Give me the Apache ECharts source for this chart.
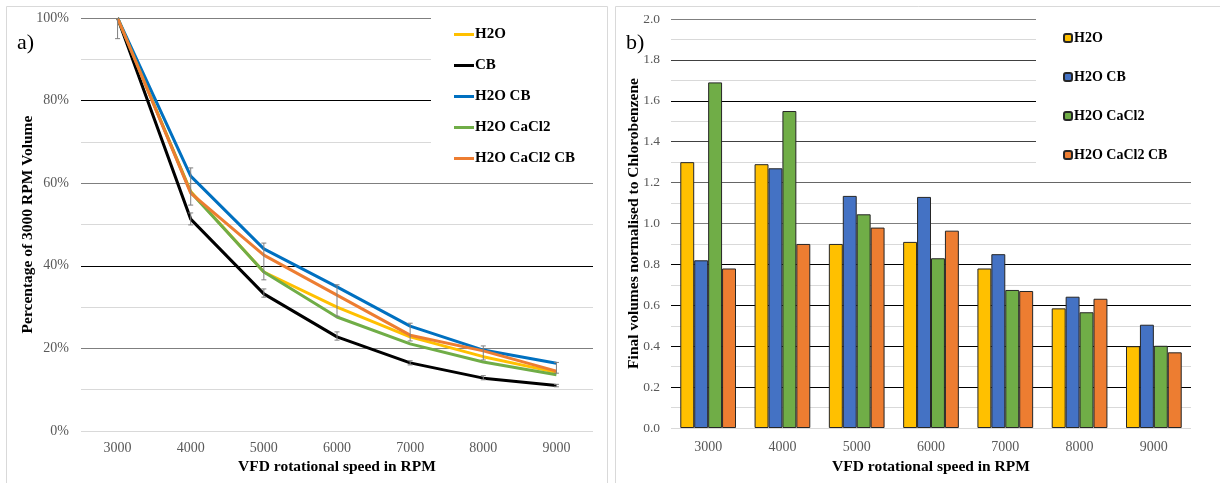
<!DOCTYPE html>
<html>
<head>
<meta charset="utf-8">
<title>VFD rotational speed</title>
<script src="https://cdn.jsdelivr.net/npm/echarts@6/dist/echarts.min.js"></script>
<style>
    html, body {margin: 0; padding: 0; background: #fff;}
    #volume_chart {position: absolute; left: 0; top: 0; width: 610px; height: 483px;}
    #normalised_chart {position: absolute; left: 610px; top: 0; width: 610px; height: 483px;}
</style>
</head>
<body>
<div id="volume_chart"></div>
<div id="normalised_chart"></div>
<script>
// 转速 (RPM)
var speeds = ['3000', '4000', '5000', '6000', '7000', '8000', '9000'];

// a) 相对 3000 RPM 体积百分比
var pctH2O = [100, 58, 38.5, 30.0, 22.8, 18.0, 14.2];
var pctCB = [100, 51.3, 33.2, 22.8, 16.5, 12.8, 11.0];
var pctH2OCB = [100, 61.7, 44.1, 34.9, 25.4, 19.6, 16.4];
var pctH2OCaCl2 = [100, 57.8, 38.5, 27.6, 21.1, 16.7, 13.6];
var pctH2OCaCl2CB = [100, 57.6, 42.6, 32.9, 23.2, 19.4, 14.5];

// 误差线 (上下限)
var errLow = [95, 54.7, 36.6, 27.8, 21.8, 17.2, 14.0];
var errHigh = [105, 63.7, 45.5, 35.4, 26.1, 20.6, 16.6];
var errCBLow = [100, 49.9, 32.4, 22.0, 16.0, 12.4, 10.7];
var errCBHigh = [100, 52.8, 34.4, 24.0, 17.0, 13.4, 11.3];

// b) 归一化最终体积
var normH2O = [1.30, 1.29, 0.90, 0.91, 0.78, 0.585, 0.40];
var normH2OCB = [0.82, 1.27, 1.135, 1.13, 0.85, 0.642, 0.505];
var normH2OCaCl2 = [1.69, 1.55, 1.045, 0.83, 0.675, 0.566, 0.402];
var normH2OCaCl2CB = [0.78, 0.90, 0.98, 0.965, 0.67, 0.632, 0.37];

var serif = 'Liberation Serif';
var light = '#d9d9d9';

/**
 * 误差线绘制
 */
function renderErrorBar(params, api) {
    var x = api.value(0);
    var low = api.coord([x, api.value(1)]);
    var high = api.coord([x, api.value(2)]);
    var style = {stroke: '#7f7f7f', lineWidth: 1};
    return {
        type: 'group',
        children: [
            {type: 'line', shape: {x1: low[0], y1: low[1], x2: high[0], y2: high[1]}, style: style},
            {type: 'line', shape: {x1: low[0] - 2.5, y1: low[1], x2: low[0] + 2.5, y2: low[1]}, style: style},
            {type: 'line', shape: {x1: high[0] - 2.5, y1: high[1], x2: high[0] + 2.5, y2: high[1]}, style: style}
        ]
    };
}

function errorData(low, high) {
    return speeds.map(function (s, i) {
        return [i, low[i], high[i]];
    });
}

function lineSeries(name, data, color) {
    return {
        name: name,
        type: 'line',
        data: data,
        symbol: 'none',
        z: 3,
        lineStyle: {color: color, width: 3},
        itemStyle: {color: color}
    };
}

/**
 * a) 折线图
 */
function createVolumeChart() {
    var myChart = echarts.init(document.getElementById('volume_chart'));
    var option = {
        animation: false,
        graphic: [
            {type: 'rect', shape: {x: 6.5, y: 6.5, width: 601, height: 500}, style: {fill: 'none', stroke: light, lineWidth: 1}},
            {type: 'rect', z: 1, shape: {x: 431, y: 10, width: 163, height: 170}, style: {fill: '#fff'}},
            {type: 'text', left: 17, top: 32, z: 5, style: {text: 'a)', font: '22px ' + serif, fill: '#000'}}
        ],
        legend: {
            orient: 'vertical',
            left: 449,
            top: 22,
            itemGap: 16,
            itemWidth: 20,
            itemHeight: 3,
            icon: 'rect',
            data: ['H2O', 'CB', 'H2O CB', 'H2O CaCl2', 'H2O CaCl2 CB'],
            textStyle: {fontFamily: serif, fontSize: 15, fontWeight: 'bold', color: '#000', padding: [0, 0, 0, -4]}
        },
        grid: {left: 81, top: 18, width: 512, height: 413},
        xAxis: {
            type: 'category',
            data: speeds,
            name: 'VFD rotational speed in RPM',
            nameLocation: 'middle',
            nameGap: 28,
            nameMoveOverlap: false,
            nameTextStyle: {fontFamily: serif, fontSize: 15.5, fontWeight: 'bold', color: '#000'},
            axisLine: {show: false},
            axisTick: {show: false},
            axisLabel: {fontFamily: serif, fontSize: 14, color: '#595959', margin: 10}
        },
        yAxis: {
            type: 'value',
            min: 0,
            max: 100,
            interval: 10,
            name: 'Percentage of 3000 RPM Volume',
            nameLocation: 'middle',
            nameGap: 45,
            nameMoveOverlap: false,
            nameTextStyle: {fontFamily: serif, fontSize: 15.5, fontWeight: 'bold', color: '#000'},
            axisLabel: {
                fontFamily: serif, fontSize: 14, color: '#595959', margin: 12,
                formatter: function (v) {
                    return v % 20 === 0 ? v + '%' : '';
                }
            },
            splitLine: {
                lineStyle: {
                    width: 1,
                    color: [light, light, '#7f7f7f', light, '#000', light, '#7f7f7f', light, '#000', light, '#7f7f7f']
                }
            }
        },
        series: [
            lineSeries('H2O', pctH2O, '#FFC000'),
            lineSeries('CB', pctCB, '#000000'),
            lineSeries('H2O CB', pctH2OCB, '#0070C0'),
            lineSeries('H2O CaCl2', pctH2OCaCl2, '#70AD47'),
            lineSeries('H2O CaCl2 CB', pctH2OCaCl2CB, '#ED7D31'),
            {type: 'custom', renderItem: renderErrorBar, data: errorData(errLow, errHigh), z: 4, clip: true, silent: true},
            {type: 'custom', renderItem: renderErrorBar, data: errorData(errCBLow, errCBHigh), z: 4, clip: true, silent: true}
        ]
    };
    myChart.setOption(option, true);
}

function barSeries(name, data, color) {
    return {
        name: name,
        type: 'bar',
        data: data,
        barGap: '0%',
        barCategoryGap: '25%',
        itemStyle: {color: color, borderColor: '#262626', borderWidth: 1}
    };
}

/**
 * b) 柱状图
 */
function createNormalisedChart() {
    var myChart = echarts.init(document.getElementById('normalised_chart'));
    var option = {
        animation: false,
        graphic: [
            {type: 'rect', shape: {x: 5.5, y: 6.5, width: 620, height: 500}, style: {fill: 'none', stroke: light, lineWidth: 1}},
            {type: 'rect', z: 1, shape: {x: 426, y: 10, width: 156, height: 170}, style: {fill: '#fff'}},
            {type: 'text', left: 16, top: 32, z: 5, style: {text: 'b)', font: '22px ' + serif, fill: '#000'}}
        ],
        legend: {
            orient: 'vertical',
            left: 448,
            top: 26,
            itemGap: 25,
            itemWidth: 8,
            itemHeight: 8,
            data: ['H2O', 'H2O CB', 'H2O CaCl2', 'H2O CaCl2 CB'],
            textStyle: {fontFamily: serif, fontSize: 14, fontWeight: 'bold', color: '#000', padding: [0, 0, 0, -3]}
        },
        grid: {left: 61, top: 19, width: 520, height: 409},
        xAxis: {
            type: 'category',
            data: speeds,
            name: 'VFD rotational speed in RPM',
            nameLocation: 'middle',
            nameGap: 31,
            nameMoveOverlap: false,
            nameTextStyle: {fontFamily: serif, fontSize: 15.5, fontWeight: 'bold', color: '#000'},
            axisLine: {show: false},
            axisTick: {show: false},
            axisLabel: {fontFamily: serif, fontSize: 14, color: '#595959', margin: 12}
        },
        yAxis: {
            type: 'value',
            min: 0,
            max: 2,
            interval: 0.1,
            name: 'Final volumes normalised to Chlorobenzene',
            nameLocation: 'middle',
            nameGap: 29,
            nameMoveOverlap: false,
            nameTextStyle: {fontFamily: serif, fontSize: 15.5, fontWeight: 'bold', color: '#000'},
            axisLabel: {
                fontFamily: serif, fontSize: 13.5, color: '#595959', margin: 11,
                formatter: function (v) {
                    return Math.round(v * 10) % 2 === 0 ? v.toFixed(1) : '';
                }
            },
            splitLine: {
                lineStyle: {
                    width: 1,
                    color: [light, light, '#000', light, '#000', light, '#000', light, '#000', light,
                        '#7f7f7f', light, '#666', light, '#404040', light, '#000', light, '#404040', light, '#7f7f7f']
                }
            }
        },
        series: [
            barSeries('H2O', normH2O, '#FFC000'),
            barSeries('H2O CB', normH2OCB, '#4472C4'),
            barSeries('H2O CaCl2', normH2OCaCl2, '#70AD47'),
            barSeries('H2O CaCl2 CB', normH2OCaCl2CB, '#ED7D31')
        ]
    };
    myChart.setOption(option, true);
}

createVolumeChart();
createNormalisedChart();
</script>
</body>
</html>
